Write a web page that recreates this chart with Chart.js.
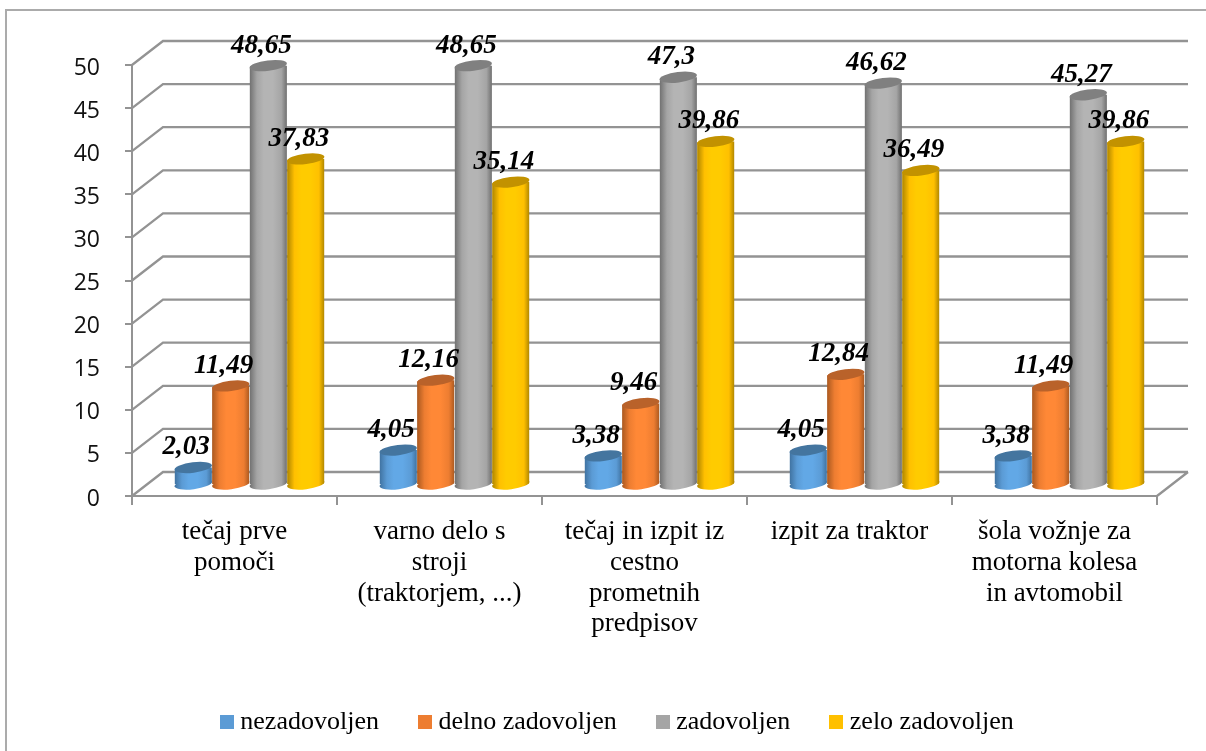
<!DOCTYPE html>
<html><head><meta charset="utf-8">
<style>html,body{margin:0;padding:0;background:#fff}canvas{display:block}</style>
<script src="https://cdn.jsdelivr.net/npm/chart.js@4"></script>
</head><body><canvas id="c" width="1206" height="751"></canvas>
<script>
const categories=[["tečaj prve","pomoči"],["varno delo s","stroji","(traktorjem, ...)"],["tečaj in izpit iz","cestno","prometnih","predpisov"],["izpit za traktor"],["šola vožnje za","motorna kolesa","in avtomobil"]];
const nezadovoljen=[2.03,4.05,3.38,4.05,3.38];
const delnoZadovoljen=[11.49,12.16,9.46,12.84,11.49];
const zadovoljen=[48.65,48.65,47.3,46.62,45.27];
const zeloZadovoljen=[37.83,35.14,39.86,36.49,39.86];
const seriesNames=["nezadovoljen","delno zadovoljen","zadovoljen","zelo zadovoljen"];
const legendColors=["#5B9BD5","#ED7D31","#A5A5A5","#FFC000"];
const edgeColors=["#3F719F","#A9581F","#6F6F6F","#AD8400"];
const midColors=["#62A8E6","#FF8836","#B4B4B4","#FFCB00"];
const capColors=["#44759F","#B9622A","#808080","#C29200"];
const SERIF='"Liberation Serif"';
const LINE='#939393';
const depth={x:31,y:-24}, shift={x:15,y:-11}, RY=5.2, ROT=-7*Math.PI/180;
const LEGEND_DY=-6, LEGEND_DX=41.5;

function barGradient(ctx,i){
  const c=ctx.chart, xs=c.scales.x;
  if(!xs) return legendColors[i];
  const w=xs.width/categories.length*0.732/4;
  const cx=xs.getPixelForValue(ctx.dataIndex)+(i-1.5)*w;
  const g=c.ctx.createLinearGradient(cx-w/2,0,cx+w/2,0);
  g.addColorStop(0,edgeColors[i]);g.addColorStop(0.2,legendColors[i]);
  g.addColorStop(0.38,midColors[i]);g.addColorStop(0.62,midColors[i]);g.addColorStop(0.85,legendColors[i]);g.addColorStop(1,edgeColors[i]);
  return g;
}
function silhouette(ctx,el){
  const rx=el.width/2, cx=el.x;
  const dx=rx*Math.cos(ROT), dy=rx*Math.sin(ROT);
  ctx.moveTo(cx-dx,el.y-dy);
  ctx.ellipse(cx,el.y,rx,RY,ROT,Math.PI,2*Math.PI);
  ctx.lineTo(cx+dx,el.base+dy);
  ctx.ellipse(cx,el.base,rx,RY,ROT,0,Math.PI);
  ctx.closePath();
}
const cylinders={id:'cylinders',
  afterLayout(c){const l=c.legend;l.left+=LEGEND_DX;l.right+=LEGEND_DX;l.top+=LEGEND_DY;l.bottom+=LEGEND_DY;},
  beforeDraw(c){
    const x=c.ctx;x.save();x.fillStyle='#fff';x.fillRect(0,0,c.width,c.height);
    x.strokeStyle='#ABABAB';x.lineWidth=2;x.beginPath();x.moveTo(6,c.height);x.lineTo(6,10);x.lineTo(c.width,10);x.stroke();x.restore();
  },
  beforeDatasetsDraw(c){
    const x=c.ctx,ys=c.scales.y,a=c.chartArea;
    x.save();x.strokeStyle=LINE;x.lineWidth=2.3;x.beginPath();
    ys.ticks.forEach(t=>{
      const p=ys.getPixelForValue(t.value);
      x.moveTo(a.left,p);x.lineTo(a.left+depth.x,p+depth.y);x.lineTo(a.right+depth.x,p+depth.y);
    });
    x.moveTo(a.right,a.bottom);x.lineTo(a.right+depth.x,a.bottom+depth.y);
    x.stroke();x.restore();
  },
  beforeDatasetDraw(c,args){
    const x=c.ctx,meta=args.meta;
    x.save();x.translate(shift.x,shift.y);
    meta.data.forEach(el=>{
      x.beginPath();x.ellipse(el.x,el.base,el.width/2,RY,ROT,0,2*Math.PI);
      x.fillStyle=el.options.backgroundColor;x.fill();
    });
    x.save();x.beginPath();meta.data.forEach(el=>silhouette(x,el));x.clip();
  },
  afterDatasetDraw(c,args){
    const x=c.ctx,i=args.index,meta=args.meta;
    x.restore();
    meta.data.forEach(el=>{
      x.beginPath();x.ellipse(el.x,el.y,el.width/2,RY,ROT,0,2*Math.PI);
      x.fillStyle=capColors[i];x.fill();
    });
    x.restore();
  },
  afterDatasetsDraw(c){
    const x=c.ctx;x.save();
    x.font='italic bold 27px '+SERIF;x.fillStyle='#000';x.textAlign='center';x.textBaseline='middle';
    [3,2,1,0].forEach(i=>{
      const meta=c.getDatasetMeta(i);
      meta.data.forEach((el,j)=>{
        const v=c.data.datasets[i].data[j];
        x.fillText(String(v).replace('.',','),el.x+shift.x-7,el.y+shift.y-20);
      });
    });
    x.restore();
  }
};
function swatch(col){const s=document.createElement('canvas');s.width=14;s.height=14;const g=s.getContext('2d');g.fillStyle=col;g.fillRect(0,0,14,14);return s;}
const seriesValues=[nezadovoljen,delnoZadovoljen,zadovoljen,zeloZadovoljen];
new Chart(document.getElementById('c'),{
  type:'bar',
  data:{labels:categories,datasets:seriesNames.map((n,i)=>({
    label:n,data:seriesValues[i],clip:false,
    backgroundColor:ctx=>barGradient(ctx,i),borderWidth:0,
    categoryPercentage:0.732,barPercentage:1
  }))},
  plugins:[cylinders],
  options:{
    responsive:false,animation:false,devicePixelRatio:1,
    layout:{padding:{top:65,right:49,left:0,bottom:0}},
    plugins:{
      tooltip:{enabled:false},title:{display:false},
      legend:{display:true,position:'bottom',
        labels:{boxWidth:1,boxHeight:14,usePointStyle:true,padding:45.5,color:'#000',
          font:{family:SERIF,size:26},
          generateLabels(c){return seriesNames.map((n,i)=>({text:n,fillStyle:legendColors[i],strokeStyle:legendColors[i],lineWidth:0,datasetIndex:i,pointStyle:swatch(legendColors[i]),hidden:false}));}
        }}
    },
    scales:{
      x:{offset:true,
        afterFit(s){s.height=255-s.chart.legend.height;},
        border:{display:true,color:LINE,width:2},
        grid:{display:true,drawOnChartArea:false,drawTicks:true,tickLength:9,color:LINE,lineWidth:2,offset:true},
        ticks:{autoSkip:false,maxRotation:0,minRotation:0,padding:11.5,color:'#000',font:{family:SERIF,size:27,lineHeight:1.14}}
      },
      y:{min:0,max:50,
        afterFit(s){s.width=132;},
        border:{display:true,color:LINE,width:2},
        grid:{display:true,drawOnChartArea:false,drawTicks:true,tickLength:7,color:LINE,lineWidth:2},
        ticks:{stepSize:5,padding:25,labelOffset:3,color:'#111',font:{family:'"Open Sans"',size:23}}
      }
    }
  }
});
</script></body></html>
